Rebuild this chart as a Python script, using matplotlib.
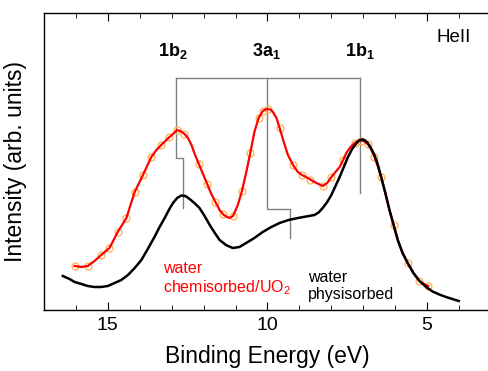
import matplotlib
matplotlib.use("Agg")
import matplotlib.pyplot as plt

plt.rcParams['font.family'] = ['Liberation Sans', 'DejaVu Sans']
plt.rcParams['mathtext.fontset'] = 'custom'
plt.rcParams['mathtext.rm'] = 'Liberation Sans'
plt.rcParams['mathtext.bf'] = 'Liberation Sans:bold'

# water physisorbed (black)
phys_energy = [16.41, 16.20, 16.04, 15.83, 15.63, 15.42, 15.21, 15.00, 14.79, 14.58,
               14.37, 14.16, 13.95, 13.75, 13.54, 13.38, 13.22, 13.09, 12.96, 12.83,
               12.70, 12.57, 12.44, 12.29, 12.13, 11.97, 11.81, 11.65, 11.50, 11.30,
               11.09, 10.88, 10.67, 10.41, 10.15, 9.88, 9.62, 9.34, 9.05, 8.79,
               8.53, 8.40, 8.27, 8.13, 8.00, 7.87, 7.74, 7.61, 7.48, 7.35,
               7.22, 7.14, 7.06, 6.96, 6.86, 6.76, 6.65, 6.55, 6.44, 6.31,
               6.18, 6.05, 5.92, 5.77, 5.61, 5.43, 5.24, 5.03, 4.83, 4.62,
               4.41, 4.21, 4.01]
phys_int = [34, 31, 28, 26, 24, 23, 23, 24, 27, 30,
            35, 42, 50, 61, 73, 83, 92, 100, 107, 112,
            114.5, 114, 111, 107, 102, 94, 85, 77, 70, 65,
            62, 63, 67, 72, 78, 83, 87, 90, 92, 93.5,
            95, 97.5, 102, 108, 115, 124, 133, 143, 153, 161,
            166.5, 169.5, 170.5, 170, 167, 162, 155, 146, 133, 117,
            100, 85, 70, 57, 47, 37, 29, 23, 18.5, 15.5,
            13, 11, 9]

# water chemisorbed on UO2 (red)
chem_energy = [16.04, 15.83, 15.63, 15.42, 15.21, 14.95, 14.69, 14.42, 14.16, 13.90,
               13.64, 13.48, 13.33, 13.20, 13.07, 12.96, 12.83, 12.70, 12.60, 12.49,
               12.38, 12.28, 12.15, 12.02, 11.89, 11.76, 11.63, 11.50, 11.40, 11.30,
               11.19, 11.08, 10.93, 10.80, 10.67, 10.54, 10.41, 10.28, 10.15, 10.07,
               9.99, 9.91, 9.83, 9.72, 9.62, 9.49, 9.36, 9.20, 9.05, 8.92,
               8.79, 8.66, 8.53, 8.40, 8.27, 8.13, 8.00, 7.87, 7.74, 7.63,
               7.53, 7.40, 7.27, 7.16, 7.06, 6.96, 6.86, 6.76, 6.65, 6.55,
               6.44, 6.31, 6.18, 6.05, 5.92, 5.77, 5.61, 5.43, 5.24, 5.10,
               4.97]
chem_int = [44, 43, 44, 49, 55, 62, 78, 92, 118, 135,
            153, 160, 165, 169, 173, 176, 180, 178.5, 176, 172,
            165, 156, 146, 136, 126, 116, 108, 100, 96, 93.5,
            92, 94, 105, 119, 137, 157, 178, 192, 199, 200.5,
            201, 200.5, 198, 192, 182, 168, 155, 145, 138, 135,
            133, 130.5, 128, 126, 124, 127, 133, 138, 143, 150,
            157, 163, 167, 169, 169.5, 168.5, 166, 161, 153, 144,
            133, 117, 100, 85, 70, 57, 47, 37, 29, 26,
            24]

peak_labels = [r'$\mathbf{1b_2}$', r'$\mathbf{3a_1}$', r'$\mathbf{1b_1}$']
peak_label_pos = [12.97, 10.04, 7.12]

fig = plt.figure(figsize=(4.89, 3.71), dpi=100)
ax = fig.add_axes([44 / 489, 61 / 371, 447 / 489, 297 / 371])

ax.plot(chem_energy, chem_int, 'o', mfc='none', mec='#ffb050', ms=5, mew=0.9,
        markevery=[0, 2, 4, 5, 6, 7, 8, 9, 10, 12, 14, 16, 18, 22, 24, 26, 28, 31,
                   33, 35, 37, 38, 40, 44, 47, 49, 51, 54, 56, 59, 62, 64, 66, 68,
                   70, 73, 76, 78, 80],
        zorder=2)
ax.plot(chem_energy, chem_int, color='red', lw=1.6, zorder=3)
ax.plot(phys_energy, phys_int, color='black', lw=1.8, zorder=4)

# assignment bars
g = '#808080'
ax.plot([12.86, 7.11], [232, 232], color=g, lw=1, zorder=1)
ax.plot([12.86, 12.86, 12.65, 12.65], [232, 152, 152, 102], color=g, lw=1, zorder=1)
ax.plot([10.0, 10.0, 9.29, 9.29], [232, 101, 101, 72], color=g, lw=1, zorder=1)
ax.plot([7.11, 7.11], [232, 117], color=g, lw=1, zorder=1)

for lab, e in zip(peak_labels, peak_label_pos):
    ax.text(e, 259, lab, ha='center', va='center', fontsize=13)

ax.text(4.17, 272, 'HeII', ha='center', va='center', fontsize=13.5)
ax.text(13.26, 13, 'water\nchemisorbed/UO$_2$', color='red', fontsize=11.5,
        ha='left', va='bottom', linespacing=1.15)
ax.text(8.74, 8, 'water\nphysisorbed', color='black', fontsize=11.5,
        ha='left', va='bottom', linespacing=1.15)

ax.set_xlim(17, 3)
ax.set_ylim(0, 297)
ax.set_xticks([15, 10, 5])
ax.set_xticks(range(4, 17), minor=True)
ax.set_yticks([])
ax.tick_params(axis='x', which='major', direction='in', length=6, top=True,
               labelsize=14, pad=5)
ax.tick_params(axis='x', which='minor', direction='in', length=3.5, top=True)
ax.spines['right'].set_visible(False)
for s in ax.spines.values():
    s.set_linewidth(1)

ax.set_xlabel('Binding Energy (eV)', fontsize=16.5, labelpad=8)
ax.set_ylabel('Intensity (arb. units)', fontsize=16.5, labelpad=12)

fig.savefig('out.png', dpi=100)
